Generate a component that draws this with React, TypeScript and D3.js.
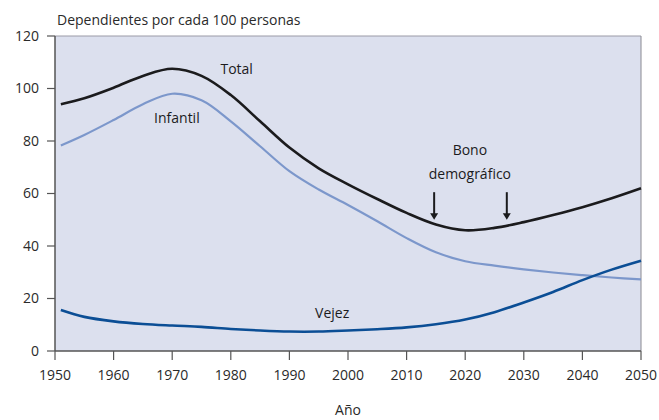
import React from 'react';
import * as d3 from 'd3';

const years = [1951, 1955, 1960, 1965, 1970, 1975, 1980, 1985, 1990, 1995, 2000, 2005, 2010, 2015, 2020, 2025, 2030, 2035, 2040, 2045, 2050];
const totalValues = [94, 96.3, 100.3, 104.8, 107.5, 104.8, 97.5, 87.5, 77.5, 69.6, 63.5, 57.9, 52.6, 48.2, 46, 46.9, 49.1, 51.8, 54.8, 58.2, 62];
const infantilValues = [78.3, 82.3, 88, 94, 98, 95.5, 87.5, 78, 68.5, 61.5, 55.6, 49.4, 43, 37.6, 34.2, 32.5, 31.1, 29.9, 28.9, 28, 27.3];
const vejezValues = [15.6, 13, 11.3, 10.3, 9.7, 9.2, 8.4, 7.8, 7.4, 7.4, 7.8, 8.3, 9, 10.2, 12, 14.8, 18.5, 22.5, 27, 31, 34.4];
const xTicks = [1950, 1960, 1970, 1980, 1990, 2000, 2010, 2020, 2030, 2040, 2050];
const yTicks = [0, 20, 40, 60, 80, 100, 120];
const arrowYears = [2014.7, 2027.1];

const W = 659;
const H = 420;
const margin = { left: 55, right: 18, top: 36, bottom: 69 };
const FONT = '"Open Sans", "Noto Sans", sans-serif';

export default function App() {
  const x = d3.scaleLinear().domain([1950, 2050]).range([margin.left, W - margin.right]);
  const y = d3.scaleLinear().domain([0, 120]).range([H - margin.bottom, margin.top]);

  const line = (vals: number[]) =>
    d3.line<number>()
      .x((_, i) => x(years[i]))
      .y((d) => y(d))
      .curve(d3.curveCatmullRom.alpha(0.5))(vals) || '';

  const x0 = x(1950);
  const x1 = x(2050);
  const yb = y(0);
  const yt = y(120);

  return (
    <svg width={W} height={H} style={{ position: 'absolute', left: 0, top: 0 }} fontFamily={FONT}>
      <rect x={x0} y={yt} width={x1 - x0} height={yb - yt} fill="#dce0ee" />
      <line x1={x0} x2={x1} y1={yt} y2={yt} stroke="#9a9aa6" strokeWidth={1} />
      <line x1={x1} x2={x1} y1={yt} y2={yb} stroke="#8a8a92" strokeWidth={1} />

      <path d={line(infantilValues)} fill="none" stroke="#7c97cb" strokeWidth={2.2} />
      <path d={line(vejezValues)} fill="none" stroke="#0b4e95" strokeWidth={2.6} />
      <path d={line(totalValues)} fill="none" stroke="#1b1b1d" strokeWidth={2.6} />

      {/* axes */}
      <line x1={x0} x2={x0} y1={yt} y2={yb} stroke="#555" strokeWidth={1.5} />
      <line x1={x0} x2={x1} y1={yb} y2={yb} stroke="#555" strokeWidth={1.5} />
      {yTicks.map((t) => (
        <g key={t}>
          <line x1={x0 - 8} x2={x0} y1={y(t)} y2={y(t)} stroke="#555" strokeWidth={1.2} />
          <text x={x0 - 16} y={y(t)} dy="0.35em" textAnchor="end" fontSize={14} fill="#2a2a2a">{t}</text>
        </g>
      ))}
      {xTicks.map((t) => (
        <g key={t}>
          <line x1={x(t)} x2={x(t)} y1={yb} y2={yb + 9} stroke="#555" strokeWidth={1.2} />
          <text x={x(t)} y={yb + 29} textAnchor="middle" fontSize={14} fill="#2a2a2a">{t}</text>
        </g>
      ))}

      <text x={57} y={25} fontSize={14} fill="#2a2a2a">Dependientes por cada 100 personas</text>
      <text x={x(2000)} y={415} textAnchor="middle" fontSize={14} fill="#2a2a2a">Año</text>

      {/* series labels */}
      <text x={x(1981)} y={y(107.4)} dy="0.35em" textAnchor="middle" fontSize={14} fill="#1b1b1d">Total</text>
      <text x={x(1970.8)} y={y(88.8)} dy="0.35em" textAnchor="middle" fontSize={14} fill="#1b1b1d">Infantil</text>
      <text x={x(1997.3)} y={y(14.5)} dy="0.35em" textAnchor="middle" fontSize={14} fill="#1b1b1d">Vejez</text>
      <text x={x(2020.8)} y={y(76.5)} dy="0.35em" textAnchor="middle" fontSize={14} fill="#1b1b1d">Bono</text>
      <text x={x(2020.8)} y={y(67.5)} dy="0.35em" textAnchor="middle" fontSize={14} fill="#1b1b1d">demográfico</text>

      {arrowYears.map((a) => (
        <g key={a}>
          <line x1={x(a)} x2={x(a)} y1={y(60.5)} y2={y(51)} stroke="#1b1b1d" strokeWidth={2} />
          <path d={`M${x(a) - 4},${y(52.5)} L${x(a) + 4},${y(52.5)} L${x(a)},${y(50)} Z`} fill="#1b1b1d" />
        </g>
      ))}
    </svg>
  );
}
